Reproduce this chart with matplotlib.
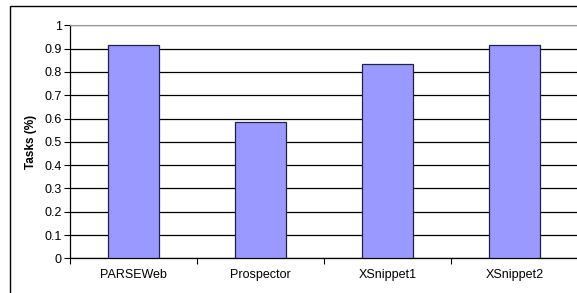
import matplotlib.pyplot as plt
from matplotlib.patches import Rectangle

tools = ["PARSEWeb", "Prospector", "XSnippet1", "XSnippet2"]
tasks = [0.9167, 0.5833, 0.8333, 0.9167]
yticks = [0, 0.1, 0.2, 0.3, 0.4, 0.5, 0.6, 0.7, 0.8, 0.9, 1]

plt.rcParams['font.family'] = ['Liberation Sans', 'DejaVu Sans']

fig = plt.figure(figsize=(5.77, 2.93), dpi=100)
W, H = 577, 293
# plot area in pixels: left 70, right 578, top 25, bottom 258
ax = fig.add_axes([70 / W, 1 - 258.3 / H, 508 / W, (258.3 - 25.3) / H])

x = range(len(tools))
ax.bar(x, tasks, width=0.4, color='#9999ff', edgecolor='#222244', linewidth=0.9, zorder=3)

ax.set_xlim(-0.5, len(tools) - 0.5)
ax.set_ylim(0, 1)
ax.set_yticks(yticks)
ax.set_yticklabels([f"{v:g}" for v in yticks], fontsize=9)
ax.yaxis.grid(True, color='black', linewidth=0.9, zorder=0)
ax.set_axisbelow(True)

# category labels centred, ticks on boundaries
ax.set_xticks(list(x))
ax.set_xticklabels(tools, fontsize=9)
ax.tick_params(axis='x', length=0, pad=8)
ax.set_xticks([i + 0.5 for i in range(-1, len(tools))], minor=True)
ax.tick_params(axis='x', which='minor', length=4, width=0.8, direction='out')
ax.tick_params(axis='y', length=4, width=0.8, direction='out', pad=2)

for side in ['top', 'right']:
    ax.spines[side].set_color('#999999')
for side in ['left', 'bottom']:
    ax.spines[side].set_color('black')
    ax.spines[side].set_linewidth(0.9)

ax.set_ylabel("Tasks (%)", fontsize=8.5, fontweight='bold', labelpad=5)

# outer chart frame
fig.patches.append(Rectangle((10 / W, -0.05), 1.2, 1 - 6 / H + 0.05,
                             transform=fig.transFigure, fill=False,
                             edgecolor='black', linewidth=1.0))

fig.savefig("out.png", dpi=100)
